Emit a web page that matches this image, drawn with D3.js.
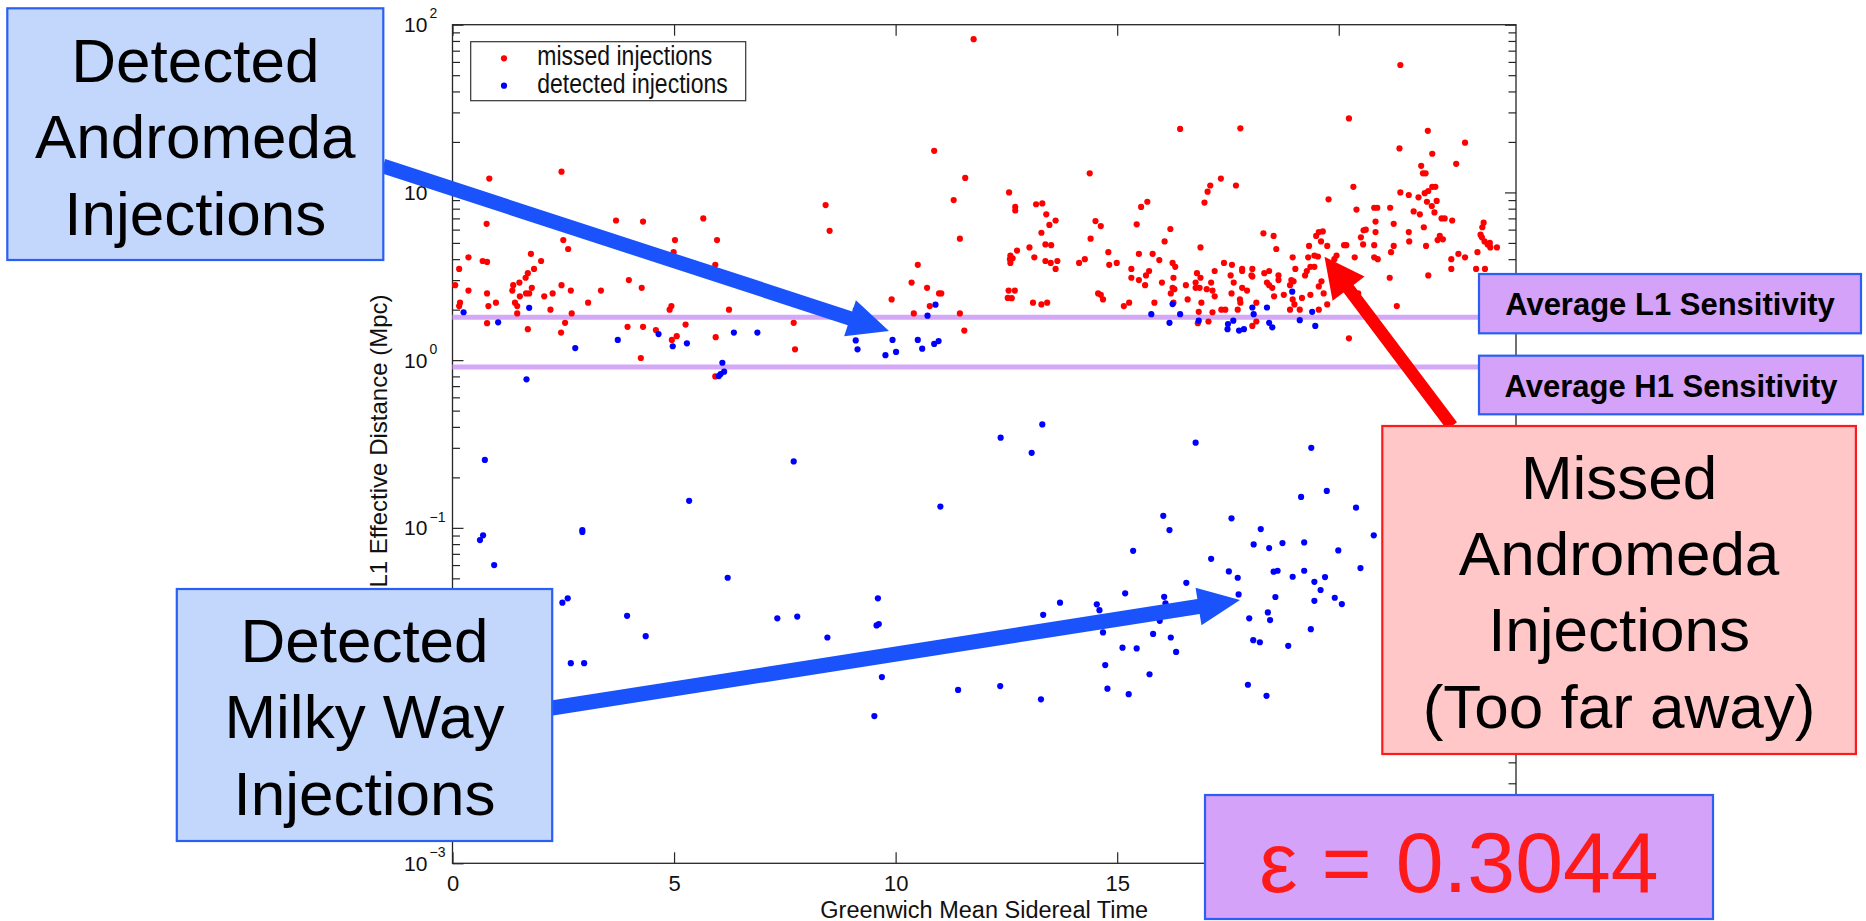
<!DOCTYPE html>
<html>
<head>
<meta charset="utf-8">
<script src="https://cdn.jsdelivr.net/npm/d3@7"></script>
<style>
  html, body { margin: 0; padding: 0; background: #ffffff; }
  svg { display: block; }
  text { font-family: "Liberation Sans", Arial, Helvetica, sans-serif; }
</style>
</head>
<body>
<svg id="chart" width="1866" height="921"></svg>
<script>
// ---- Injection data: Greenwich Mean Sidereal Time (h) and L1 effective distance (Mpc) ----
const missedGMST = [
  2.46,0.83,0.77,3.69,4.30,5.66,5.02,5.97,2.50,2.61,4.99,8.42,8.51,5.93,1.77,2.00,1.84,1.70,1.65,1.51,
  1.37,1.79,1.35,0.36,0.15,0.68,0.78,0.06,0.36,0.78,0.17,0.15,0.81,0.98,1.41,1.46,1.52,1.66,1.73,2.07,
  2.26,2.46,2.67,2.21,2.69,1.46,3.35,3.98,4.27,3.06,4.94,4.90,6.24,0.78,1.70,2.54,2.45,3.95,4.30,4.59,
  5.26,5.06,4.95,5.94,7.70,7.73,4.25,5.93,9.91,10.77,10.41,11.45,11.55,13.10,13.29,13.42,15.15,15.27,15.84,16.27,
  16.90,16.84,17.15,17.35,17.44,17.72,17.78,18.14,16.82,17.06,18.05,18.14,18.90,19.12,19.55,19.74,19.00,20.23,21.31,11.76,
  10.87,11.57,11.31,11.45,10.36,10.50,10.71,10.98,11.03,12.56,12.70,12.70,13.17,13.31,13.40,13.61,13.47,13.29,12.74,13.02,
  12.59,12.58,12.64,12.59,13.13,13.38,13.51,13.38,13.50,13.65,13.61,12.55,12.69,12.53,12.62,14.14,14.27,14.38,14.51,14.63,
  14.40,14.80,14.82,14.99,14.57,14.63,14.68,15.32,15.32,15.49,15.49,15.44,15.54,15.68,15.65,15.72,15.63,15.80,15.95,16.01,
  16.07,16.20,16.25,16.31,16.27,16.25,16.29,16.21,16.42,16.55,16.59,16.80,16.88,16.77,16.77,16.86,16.88,16.97,17.04,17.10,
  17.34,17.68,17.78,17.12,17.02,17.15,17.20,17.20,17.41,17.59,17.56,17.63,17.58,17.82,17.82,18.05,17.82,17.93,17.77,18.03,
  18.05,18.30,18.53,18.59,18.32,18.43,18.38,18.43,18.50,18.64,18.64,18.54,18.76,18.90,18.96,18.93,18.98,19.02,18.96,19.17,
  19.24,19.28,19.36,19.45,19.31,19.45,19.53,19.33,19.36,19.49,19.55,19.64,19.60,19.61,19.55,19.66,19.74,19.77,19.95,19.90,
  20.12,20.17,20.23,20.33,20.40,20.36,20.44,20.50,20.56,20.61,20.55,20.80,20.87,20.83,20.83,20.80,20.80,20.88,21.16,21.24,
  21.24,21.18,21.15,21.39,21.37,21.39,21.58,21.58,21.59,21.69,21.83,21.80,21.86,21.90,21.96,21.92,21.97,22.02,22.01,22.11,
  21.94,22.02,22.11,22.18,21.99,22.10,22.21,22.16,22.32,22.39,22.23,22.35,22.28,22.56,22.65,22.85,22.54,22.54,22.70,22.85,
  23.10,23.27,23.24,23.20,23.23,23.29,23.36,23.42,23.41,23.13,23.57,23.30
];
const missedDist = [
  13.3,12.1,6.5,6.8,6.7,7.0,5.2,5.2,5.2,4.6,4.4,8.4,5.9,3.7,4.3,3.9,3.5,3.3,3.1,2.9,
  2.8,2.7,2.6,4.1,3.5,3.9,3.85,2.8,2.6,2.5,2.2,2.1,2.1,2.2,2.2,2.1,2.4,2.5,2.5,2.4,
  2.5,2.8,2.6,2.0,1.9,1.9,2.6,3.0,2.7,2.2,2.1,2.0,2.0,1.66,1.53,1.67,1.46,1.58,1.58,1.51,
  1.63,1.39,1.32,1.37,1.67,1.16,1.03,0.80,2.3,2.1,1.9,1.9,1.50,2.2,2.15,2.2,2.1,2.2,2.2,2.2,
  2.2,1.94,1.93,2.0,2.0,2.0,2.2,2.2,1.66,1.7,1.6,1.7,2.0,2.0,2.0,2.15,2.15,1.35,2.1,82,
  17.7,12.2,9.0,5.3,2.9,3.7,2.7,2.5,2.5,10.0,8.2,7.8,8.5,8.6,7.4,6.8,6.4,5.75,4.5,4.7,
  4.2,4.0,4.05,3.8,4.1,4.9,4.85,3.9,3.8,3.9,3.5,2.6,2.6,2.35,2.34,3.8,4.0,13.0,6.75,6.3,
  5.3,4.4,3.7,3.8,2.5,2.45,2.3,3.5,3.1,3.0,4.3,6.45,8.2,8.8,3.2,3.4,2.8,4.3,3.95,2.9,
  5.1,6.05,3.8,3.6,3.1,2.7,2.65,2.5,23.9,2.8,2.3,3.3,3.1,2.9,2.7,2.7,4.7,8.7,10.1,11.0,
  12.1,11.0,24.1,2.9,2.65,2.6,2.4,3.4,3.8,3.7,3.2,2.9,2.5,3.5,3.4,3.5,2.7,2.6,2.3,3.2,
  3.15,5.7,5.5,4.6,3.3,3.4,2.9,2.8,2.7,3.2,3.0,2.4,2.45,2.8,4.1,3.0,2.95,3.5,2.3,2.35,
  3.2,3.4,3.6,3.6,4.1,4.2,4.15,4.8,2.45,5.5,5.8,5.85,5.1,2.95,2.75,2.5,4.8,9.1,4.2,4.0,
  4.85,4.85,27.6,10.8,7.9,4.1,2.5,5.4,5.95,6.0,4.9,8.1,8.1,6.7,5.8,4.85,4.1,4.0,8.1,6.5,
  4.8,4.4,3.1,57.5,18.3,10.0,9.65,5.8,5.1,7.7,7.4,9.35,14.4,13.0,13.0,6.2,4.8,3.2,23.3,17.0,
  9.9,10.2,10.8,10.8,8.8,8.3,8.9,7.6,7.0,7.0,5.2,5.25,5.5,6.8,14.8,19.8,4.0,3.5,4.3,4.1,
  3.5,6.6,6.2,5.6,5.4,5.1,4.9,4.7,5.0,4.4,4.7,3.5
];
const detectedGMST = [
  0.25,1.73,9.10,1.03,2.77,1.67,3.73,4.65,4.97,5.29,6.35,6.88,6.09,6.13,6.05,6.01,9.10,9.14,0.73,7.70,
  5.34,0.62,0.69,0.94,2.93,2.93,6.21,2.48,2.60,3.94,7.33,7.78,9.60,2.67,2.97,4.36,8.46,9.62,9.57,9.69,
  9.52,11.41,12.36,13.28,13.33,13.71,10.90,10.72,9.93,9.77,10.01,10.50,10.60,10.87,10.97,15.77,16.18,16.42,16.25,16.84,
  17.50,17.49,17.62,17.75,17.86,18.05,18.38,18.08,18.43,18.50,19.12,19.40,19.47,13.31,12.37,13.07,16.77,19.38,11.01,19.15,
  19.73,20.39,16.04,16.18,17.58,18.24,15.36,17.12,18.08,18.43,18.73,19.22,19.99,20.79,20.49,17.52,17.72,18.53,18.62,18.96,
  19.22,19.45,19.69,19.59,16.56,15.18,16.06,16.09,17.74,18.57,19.45,19.91,20.07,14.54,14.60,18.40,17.98,15.96,14.68,15.81,
  16.21,15.12,15.44,16.33,14.73,15.73,14.78,15.26,18.45,19.37,18.07,18.22,18.86,17.95,18.37,18.95
];
const detectedDist = [
  1.93,2.05,1.99,1.68,1.18,0.768,1.32,1.43,1.21,1.26,1.46,1.46,0.965,0.853,0.826,0.804,1.31,1.16,0.254,0.249,
  0.145,0.0846,0.0902,0.060,0.097,0.0946,0.0504,0.0358,0.0380,0.0299,0.0289,0.0296,0.0380,0.0156,0.0156,0.0226,0.0222,0.0267,0.0262,0.0129,
  0.00755,0.0108,0.0114,0.0095,0.0303,0.0358,2.14,1.84,1.32,1.07,1.12,1.32,1.17,1.25,1.30,1.88,1.67,1.88,2.16,1.72,
  1.64,1.53,1.72,1.50,1.53,2.06,2.06,1.88,1.67,1.57,1.73,1.94,1.60,0.414,0.345,0.280,0.322,0.300,0.134,0.153,
  0.166,0.132,0.118,0.097,0.114,0.0984,0.0730,0.0654,0.0797,0.0758,0.0812,0.0819,0.0734,0.0902,0.0576,0.0550,0.0504,0.0548,0.0555,0.0511,
  0.0555,0.0477,0.0509,0.0426,0.0470,0.0407,0.0388,0.0355,0.0401,0.0387,0.0367,0.0383,0.0351,0.0350,0.0323,0.0313,0.0289,0.0279,0.0238,0.0233,
  0.0222,0.0193,0.0191,0.0182,0.0152,0.0134,0.0110,0.0102,0.0282,0.0249,0.0214,0.0208,0.0198,0.0116,0.00997,2.56
];

// Axis ticks and reference values
const xTicks = [0, 5, 10, 15, 20];
const yTickExponents = [2, 1, 0, -1, -2, -3];
const legendLabels = ["missed injections", "detected injections"];
const l1Sensitivity = 1.8;   // Mpc
const h1Sensitivity = 0.91;  // Mpc
const efficiency = 0.3044;

// ---- Layout ----
const plot = { left: 452.5, right: 1516, top: 24.7, bottom: 863.3 };
const FONT = '"Liberation Sans", Arial, Helvetica, sans-serif';

const svg = d3.select("#chart");
const x = d3.scaleLinear().domain([0, 24]).range([plot.left, plot.right]);
const y = d3.scaleLog().domain([1e-3, 1e2]).range([plot.bottom, plot.top]);

const minorY = [];
for (let k = -3; k <= 1; k++) for (let m = 2; m <= 9; m++) minorY.push(m * Math.pow(10, k));
const majorY = yTickExponents.map(e => Math.pow(10, e));

const axisColor = "#262626";
function styleAxis(g) {
  g.select(".domain").remove();
  g.selectAll(".tick line").attr("stroke", axisColor).attr("stroke-width", 1.2);
}

// ---- Frame and ticks (all pointing inward) ----
const axes = svg.append("g");
axes.append("g").attr("transform", `translate(0,${plot.bottom})`)
  .call(d3.axisBottom(x).tickValues(xTicks).tickSize(-11).tickFormat(d3.format("d")))
  .call(styleAxis)
  .call(g => g.selectAll(".tick text")
    .attr("y", 27.4).attr("dy", null)
    .attr("font-size", 22).attr("font-family", FONT).attr("fill", "#111"));
axes.append("g").attr("transform", `translate(0,${plot.top})`)
  .call(d3.axisTop(x).tickValues(xTicks).tickSize(-11).tickFormat(""))
  .call(styleAxis);
[[majorY, 11], [minorY, 7.5]].forEach(([vals, len]) => {
  axes.append("g").attr("transform", `translate(${plot.left},0)`)
    .call(d3.axisLeft(y).tickValues(vals).tickSize(-len).tickFormat(""))
    .call(styleAxis);
  axes.append("g").attr("transform", `translate(${plot.right},0)`)
    .call(d3.axisRight(y).tickValues(vals).tickSize(-len).tickFormat(""))
    .call(styleAxis);
});
axes.append("rect")
  .attr("x", plot.left).attr("y", plot.top)
  .attr("width", plot.right - plot.left).attr("height", plot.bottom - plot.top)
  .attr("fill", "none").attr("stroke", axisColor).attr("stroke-width", 1.3);

// Y tick labels as powers of ten
const yLab = axes.append("g").attr("fill", "#111");
yTickExponents.forEach(e => {
  const base = y(Math.pow(10, e)) + 7.5;
  yLab.append("text").attr("x", 404).attr("y", base)
    .attr("font-size", 21).text("10");
  yLab.append("text").attr("x", 429.5).attr("y", base - 13.8)
    .attr("font-size", 14).text(String(e).replace("-", "\u2212"));
});

// Axis titles
axes.append("text")
  .attr("x", (plot.left + plot.right) / 2).attr("y", 917.5)
  .attr("text-anchor", "middle").attr("font-size", 23.5).attr("fill", "#111")
  .text("Greenwich Mean Sidereal Time");
axes.append("text")
  .attr("transform", "translate(387,441) rotate(-90)")
  .attr("text-anchor", "middle").attr("font-size", 24).attr("fill", "#111")
  .text("L1 Effective Distance (Mpc)");

// ---- Average detector sensitivity lines ----
const sensLines = svg.append("g");
[l1Sensitivity, h1Sensitivity].forEach(v => {
  sensLines.append("line")
    .attr("x1", plot.left).attr("x2", 1479)
    .attr("y1", y(v)).attr("y2", y(v))
    .attr("stroke", "#d4a8f6").attr("stroke-width", 5);
});

// ---- Injection points ----
const missed = missedGMST.map((t, i) => ({ t, d: missedDist[i] }));
const detected = detectedGMST.map((t, i) => ({ t, d: detectedDist[i] }));
const pts = svg.append("g");
pts.selectAll("circle.missed").data(missed).join("circle")
  .attr("class", "missed")
  .attr("cx", d => x(d.t)).attr("cy", d => y(d.d)).attr("r", 3.1)
  .attr("fill", "#ff0000");
pts.selectAll("circle.detected").data(detected).join("circle")
  .attr("class", "detected")
  .attr("cx", d => x(d.t)).attr("cy", d => y(d.d)).attr("r", 3.1)
  .attr("fill", "#0000ff");

// ---- Legend ----
const legend = svg.append("g");
legend.append("rect").attr("x", 470.7).attr("y", 41.7).attr("width", 275).attr("height", 59)
  .attr("fill", "#fff").attr("stroke", "#333").attr("stroke-width", 1.2);
legendLabels.forEach((label, i) => {
  const cy = 58.3 + i * 27.4;
  legend.append("circle").attr("cx", 504).attr("cy", cy).attr("r", 3.1)
    .attr("fill", i === 0 ? "#ff0000" : "#0000ff");
  legend.append("text")
    .attr("transform", `translate(537.3,${cy + 6.9}) scale(1,1.22)`)
    .attr("font-size", 23).attr("fill", "#111").text(label);
});

// ---- Annotation arrows ----
function arrowPoints(x0, y0, x1, y1, w, L, H) {
  const dx = x1 - x0, dy = y1 - y0, len = Math.hypot(dx, dy);
  const ux = dx / len, uy = dy / len, px = -uy, py = ux;
  const bx = x1 - ux * L, by = y1 - uy * L;
  return [
    [x0 + px * w / 2, y0 + py * w / 2], [bx + px * w / 2, by + py * w / 2],
    [bx + px * H, by + py * H], [x1, y1], [bx - px * H, by - py * H],
    [bx - px * w / 2, by - py * w / 2], [x0 - px * w / 2, y0 - py * w / 2]
  ];
}
const arrows = [
  { from: [383, 166], to: [889, 331], w: 14.5, L: 41, H: 19, color: "#1a53fb" },
  { from: [552, 708], to: [1240, 600], w: 15, L: 42, H: 19, color: "#1a53fb" },
  { from: [1452, 426], to: [1324.5, 256.7], w: 12.5, L: 40, H: 20, color: "#ff0000" }
];
svg.append("g").selectAll("polygon").data(arrows).join("polygon")
  .attr("points", a => arrowPoints(a.from[0], a.from[1], a.to[0], a.to[1], a.w, a.L, a.H).map(p => p.join(",")).join(" "))
  .attr("fill", a => a.color);

// ---- Callout boxes ----
const callouts = [
  { x: 7.3, y: 8.3, w: 376, h: 251.7, fill: "#c3d6fc", stroke: "#2a5ff5",
    lines: ["Detected", "Andromeda", "Injections"], base: 81.7, step: 76.7, size: 62, color: "#000", weight: "normal" },
  { x: 176.8, y: 589, w: 375.4, h: 252, fill: "#c3d6fc", stroke: "#2a5ff5",
    lines: ["Detected", "Milky Way", "Injections"], base: 661.7, step: 76.7, size: 62, color: "#000", weight: "normal" },
  { x: 1382.3, y: 426, w: 473.6, h: 328, fill: "#ffc7c7", stroke: "#ff1a1a",
    lines: ["Missed", "Andromeda", "Injections", "(Too far away)"], base: 498.5, step: 76.4, size: 62, color: "#000", weight: "normal" },
  { x: 1479, y: 274, w: 382, h: 59.3, fill: "#d4a2f8", stroke: "#2a5ff5",
    lines: ["Average L1 Sensitivity"], base: 315, step: 0, size: 31, color: "#000", weight: "bold" },
  { x: 1479, y: 355.7, w: 384, h: 58.6, fill: "#d4a2f8", stroke: "#2a5ff5",
    lines: ["Average H1 Sensitivity"], base: 396.7, step: 0, size: 31, color: "#000", weight: "bold" },
  { x: 1205, y: 795, w: 508, h: 124, fill: "#d4a2f8", stroke: "#2a5ff5",
    lines: [`\u03b5 = ${efficiency}`], base: 891.7, step: 0, size: 86, color: "#ff1a1a", weight: "normal" }
];
const boxes = svg.append("g").selectAll("g").data(callouts).join("g");
boxes.append("rect")
  .attr("x", d => d.x).attr("y", d => d.y).attr("width", d => d.w).attr("height", d => d.h)
  .attr("fill", d => d.fill).attr("stroke", d => d.stroke).attr("stroke-width", 2.2);
boxes.each(function (d) {
  d3.select(this).selectAll("text").data(d.lines).join("text")
    .attr("x", d.x + d.w / 2)
    .attr("y", (s, i) => d.base + i * d.step)
    .attr("text-anchor", "middle")
    .attr("font-size", d.size).attr("font-weight", d.weight)
    .attr("fill", d.color)
    .text(s => s);
});
</script>
</body>
</html>
